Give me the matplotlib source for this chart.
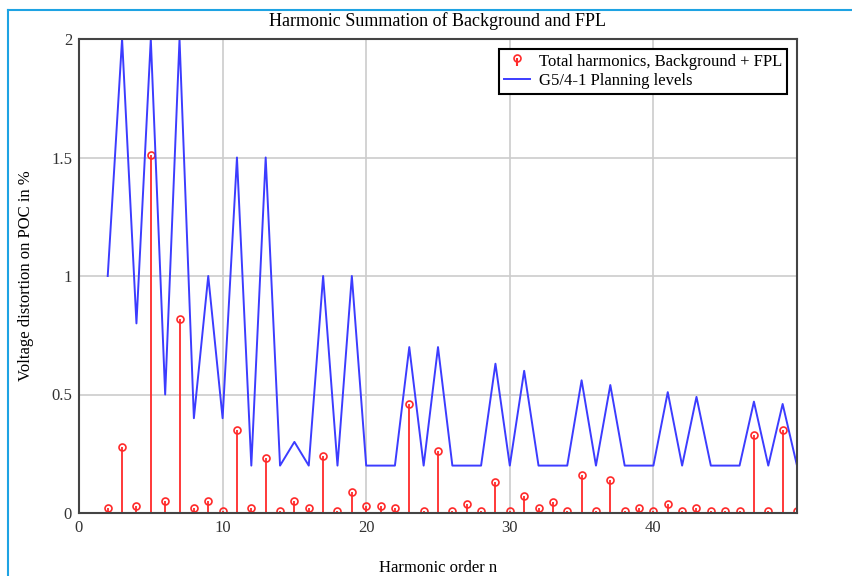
import matplotlib.pyplot as plt
from matplotlib.lines import Line2D

# harmonic orders
orders = list(range(2, 51))

# total harmonics, background + FPL (%)
total_harm = [0.02, 0.28, 0.03, 1.51, 0.05, 0.82, 0.02, 0.05, 0.01, 0.35,
              0.02, 0.23, 0.01, 0.05, 0.02, 0.24, 0.01, 0.09, 0.03, 0.03,
              0.02, 0.46, 0.01, 0.26, 0.01, 0.04, 0.01, 0.13, 0.01, 0.07,
              0.02, 0.045, 0.01, 0.16, 0.01, 0.14, 0.01, 0.02, 0.01, 0.04,
              0.01, 0.02, 0.01, 0.01, 0.01, 0.33, 0.01, 0.35, 0.01]

# G5/4-1 planning levels (%)
planning = [1.0, 2.0, 0.8, 2.0, 0.5, 2.0, 0.4, 1.0, 0.4, 1.5,
            0.2, 1.5, 0.2, 0.3, 0.2, 1.0, 0.2, 1.0, 0.2, 0.2,
            0.2, 0.7, 0.2, 0.7, 0.2, 0.2, 0.2, 0.63, 0.2, 0.6,
            0.2, 0.2, 0.2, 0.56, 0.2, 0.54, 0.2, 0.2, 0.2, 0.51,
            0.2, 0.49, 0.2, 0.2, 0.2, 0.47, 0.2, 0.46, 0.2]

plt.rcParams['font.family'] = ['Liberation Serif', 'DejaVu Serif']

fig = plt.figure(figsize=(8.53, 5.76), dpi=100)
ax = fig.add_axes([79 / 853, 1 - 513 / 576, 718 / 853, 474 / 576])

# stems
stems = ax.stem(orders, total_harm, basefmt=' ',
                label='Total harmonics, Background + FPL')
markers, stemlines, baseline = stems
stemlines.set_color('#ff2a2a')
stemlines.set_linewidth(1.3)
markers.set_marker('o')
markers.set_markersize(5)
markers.set_markerfacecolor('none')
markers.set_markeredgecolor('#ff2a2a')
markers.set_markeredgewidth(1.2)

line, = ax.plot(orders, planning, color='#3c3cff', linewidth=1.4,
                label='G5/4-1 Planning levels')

ax.set_xlim(0, 50)
ax.set_ylim(0, 2)
ax.set_xticks([0, 10, 20, 30, 40])
ax.set_yticks([0, 0.5, 1, 1.5, 2])
ax.set_yticklabels(['0', '0.5', '1', '1.5', '2'])
ax.tick_params(length=0, labelsize=12, labelcolor='#333333', pad=5)
ax.grid(True, color='#cccccc', linewidth=1.2)
ax.set_axisbelow(True)
for s in ax.spines.values():
    s.set_color('#444444')
    s.set_linewidth(1.5)

ax.set_title('Harmonic Summation of Background and FPL', fontsize=13, pad=9)
ax.set_xlabel('Harmonic order n', fontsize=12, labelpad=17)
ax.set_ylabel('Voltage distortion on POC in %', fontsize=12, labelpad=12)

leg = ax.legend([stems, line], ['Total harmonics, Background + FPL', 'G5/4-1 Planning levels'],
                loc='upper right', fontsize=12, fancybox=False,
                edgecolor='black', framealpha=1, borderaxespad=0.6,
                labelspacing=0.2, handlelength=1.6, handletextpad=0.5, borderpad=0.3)
leg.get_frame().set_linewidth(1.5)

# outer blue frame of the screenshot
fy = 1 - 10 / 576
fx = 8 / 853
fig.add_artist(Line2D([fx, fx], [0, fy], color='#1ea3e3', linewidth=1.5))
fig.add_artist(Line2D([fx, 1], [fy, fy], color='#1ea3e3', linewidth=1.5))

fig.savefig('out.png', dpi=100)
